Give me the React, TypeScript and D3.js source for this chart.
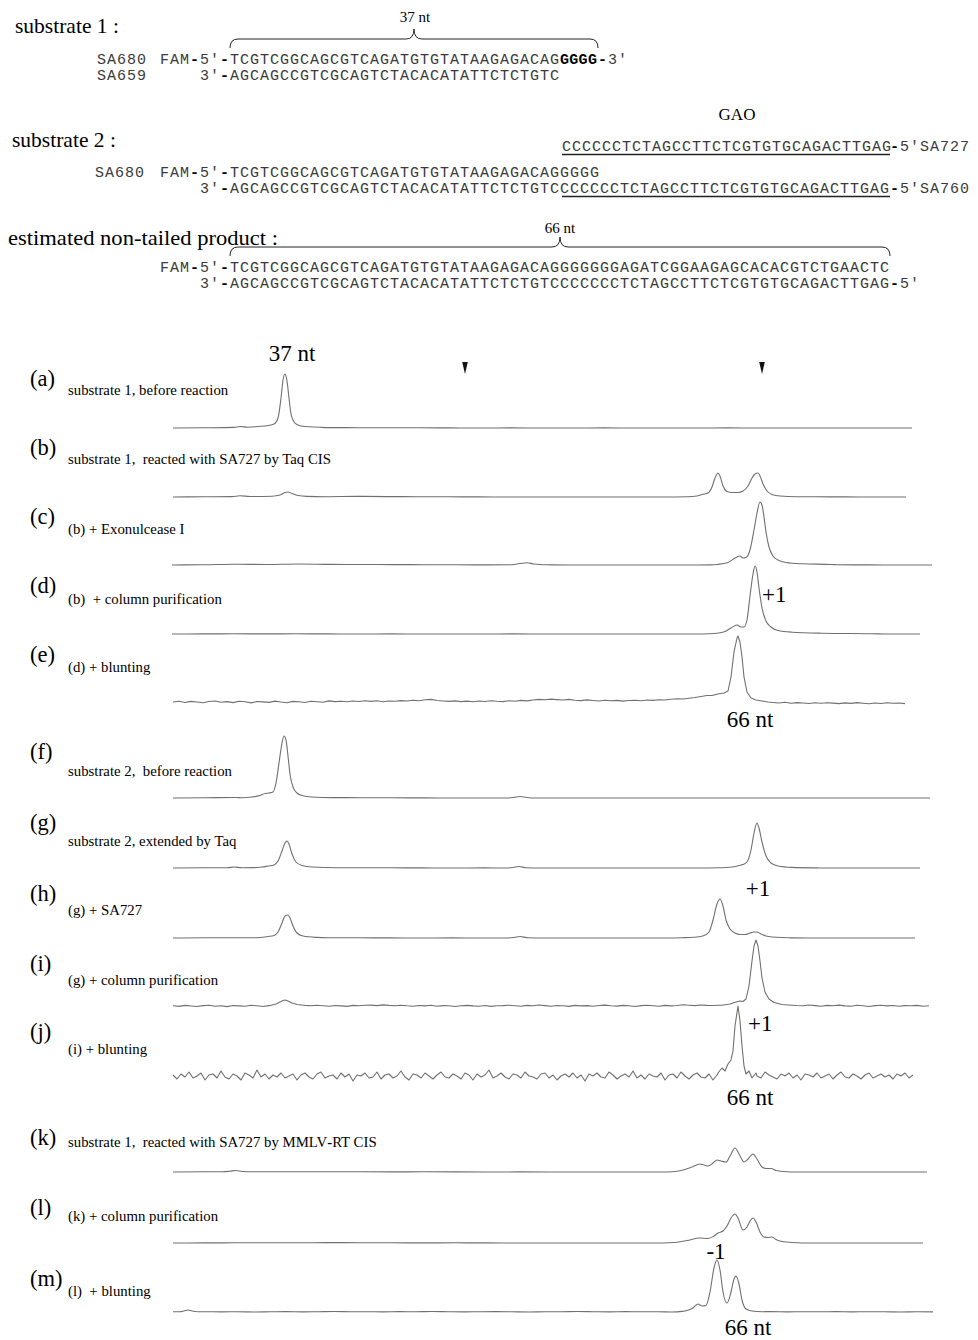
import React from 'react'
import * as d3 from 'd3'

// ---- header sequences ----
const SA680_SEQ = 'TCGTCGGCAGCGTCAGATGTGTATAAGAGACAG'
const G_TAIL = 'GGGG'
const SA659_SEQ = 'AGCAGCCGTCGCAGTCTACACATATTCTCTGTC'
const GAO_SEQ = 'CCCCCCTCTAGCCTTCTCGTGTGCAGACTTGAG'
const PRODUCT_TAIL = 'GGGGGGAGATCGGAAGAGCACACGTCTGAACTC'

// ---- panels ----
const PANEL_IDS = ['a', 'b', 'c', 'd', 'e', 'f', 'g', 'h', 'i', 'j', 'k', 'l', 'm']
const PANEL_NOTES = [
  'substrate 1, before reaction',
  'substrate 1,  reacted with SA727 by Taq CIS',
  '(b) + Exonulcease I',
  '(b)  + column purification',
  '(d) + blunting',
  'substrate 2,  before reaction',
  'substrate 2, extended by Taq',
  '(g) + SA727',
  '(g) + column purification',
  '(i) + blunting',
  'substrate 1,  reacted with SA727 by MMLV-RT CIS',
  '(k) + column purification',
  '(l)  + blunting',
]

// scan position of the two arrowheads over (a)
const MARKER_SCANS = [293, 590]

// traces: base = evenly spaced baseline readings between start and end (scan units),
// peaks = [scan, signal] readings around each peak
const A_BASE = [0, 0.2, 0.4, 0.3, 0.5, 0.4, 0.3, 0.2, 0.2, 0.1, 0, 0.1, 0, 0, 0.1, 0, 0, 0, 0.1, 0, 0, 0, 0, 0, 0]
const A_PEAKS = [[[62, 0.6], [68, 1.5], [76, 0.8], [86, 1.5], [96, 2.5], [102, 4], [106, 10], [109, 30], [111, 48], [113, 54], [115, 47], [117, 30], [119, 14], [122, 6], [126, 3], [133, 1.5], [148, 0.8]]]

const B_BASE = [0, 0.2, 0.5, 0.3, 0.4, 0.3, 0.6, 0.4, 0.3, 0.2, 0.1, 0, 0, 0, 0, 0, 0, 0.2, 0.3, 0.5, 0.3, 0.2, 0.1, 0, 0]
const B_PEAKS = [
  [[60, 0.4], [68, 1.2], [78, 0.5], [100, 0.8], [108, 2], [113, 4.5], [116, 5], [120, 3.5], [126, 1.5], [135, 0.6]],
  [[515, 0.3], [525, 1], [532, 3], [536, 4], [540, 10], [543, 19], [546, 24], [548, 21], [551, 11], [555, 5.5], [560, 4.5], [566, 4.5], [571, 6], [576, 11], [580, 19], [583, 23], [586, 24], [588, 21], [591, 13], [595, 6], [600, 2.5], [608, 1], [625, 0.3]],
]

const C_BASE = [0, 0.3, 0.8, 0.5, 1, 0.6, 0.5, 0.4, 0.3, 0.2, 0.1, 0.2, 0.1, 0, 0, 0, 0, 0.1, 0.3, 0.2, 0.4, 0.2, 0.1, 0, 0]
const C_PEAKS = [
  [[340, 0.3], [348, 1.5], [355, 2.3], [362, 1], [375, 0.2]],
  [[545, 0.5], [556, 2.5], [563, 7], [568, 9], [571, 7], [574, 7.5], [578, 15], [582, 35], [585, 52], [588, 63], [590, 60], [592, 48], [594, 33], [597, 18], [601, 9], [606, 5], [614, 2.5], [630, 1.2], [660, 0.5]],
]

const D_BASE = [0, 0.1, 0.2, 0.1, 0.2, 0.1, 0, 0.1, 0, 0, 0, 0.1, 0, 0, 0, 0, 0, 0, 0.2, 0.3, 0.2, 0.1, 0, 0, 0]
const D_PEAKS = [[[530, 0], [545, 0.8], [553, 2.5], [559, 6], [565, 9], [569, 7], [572, 7], [575, 14], [578, 38], [581, 60], [583, 68], [585, 62], [587, 46], [590, 26], [594, 13], [599, 7], [606, 3.5], [620, 1.8], [650, 0.8], [700, 0.3]]]

const E_BASE = [
  0, 0.8, -0.5, 0.6, 0, -0.8, 0.5, 1, -0.3, 0.4,
  -0.6, 0.7, 0.2, -0.9, 0.5, 0.1, -0.4, 0.9, 0, -0.7,
  0.6, 0.3, -0.5, 0.8, 0.2, -0.3, 1.1, 0.4, 0.8, 0.2,
  1, 0.5, 1.3, 0.6, 1.2, 0.3, 1.0, 0.7, 1.4, 1.0,
  1.8, 1.2, 2.2, 2.6, 1.5, 1.0, 0.6, 1.1, 0.4, 0.9,
  0.3, 1.0, 0.5, 1.2, 0.7, 0.4, 1.3, 0.8, 1.6, 1.1,
  2.0, 2.6, 2.2, 2.9, 2.4, 2.0, 2.6, 1.8, 1.4, 2.1,
  1.5, 1.0, 1.8, 1.2, 1.6, 0.9, 1.5, 1.8, 1.2, 2.0,
  1.6, 2.3, 2.0, 2.8, 3.2, 3.0, 3.8, 4.5, 5.5, 6.5,
  7, 8, 9, 20, 60, 30, 8, 4, 2, 1,
  -0.5, -1, -0.3, -1.2, -0.6, -1.0, -1.5, -0.8, -1.3, -0.7,
  -1.1, -1.6, -0.9, -1.4, -0.6, -1.2, -1.8, -1.0, -1.5, -0.7, -1.3, -1.0, -1.6,
]
const E_PEAKS = [[[540, 6.5], [546, 8], [552, 9], [556, 11], [559, 25], [562, 50], [565, 64], [566, 66], [568, 60], [570, 45], [572, 25], [575, 10], [579, 4], [584, 2], [590, 1], [596, 0]]]

const F_BASE = [0, 0.2, 0.5, 0.3, 0.8, 0.5, 0.3, 0.2, 0.1, 0, 0, 0, 0, 0, 0, 0, 0, 0, 0, 0, 0, 0, 0, 0, 0]
const F_PEAKS = [
  [[70, 0.3], [80, 1], [88, 2.5], [93, 4.5], [97, 5], [101, 6], [104, 15], [107, 35], [110, 55], [112, 62], [114, 58], [116, 42], [118, 24], [121, 11], [125, 5], [130, 2.5], [140, 1], [160, 0.4]],
  [[335, 0], [342, 0.6], [348, 1.5], [355, 0.5], [365, 0]],
]

const G_BASE = [0, 0.2, 0.5, 0.3, 0.6, 0.4, 0.3, 0.2, 0.1, 0, 0.1, 0, 0, 0, 0, 0, 0, 0, 0, 0.2, 0.1, 0, 0, 0, 0]
const G_PEAKS = [
  [[55, 0.2], [62, 1], [70, 0.3]],
  [[82, 0.4], [90, 1], [96, 2], [102, 3], [106, 7], [110, 17], [113, 25], [115, 27], [117, 24], [120, 14], [124, 6], [130, 2.5], [140, 1], [165, 0.3]],
  [[335, 0], [341, 0.5], [347, 1.5], [354, 0.3], [365, 0]],
  [[545, 0.2], [560, 1], [567, 2.5], [571, 3.5], [575, 6], [579, 18], [582, 35], [585, 45], [587, 40], [590, 26], [594, 12], [599, 5], [606, 2], [620, 0.6], [645, 0.1]],
]

const H_BASE = [0, 0.3, 0.2, 0.4, 0.6, 0.3, 0.2, 0.1, 0, 0.1, 0, 0, 0, 0, 0, 0, 0, 0.2, 0.4, 0.3, 0.1, 0, 0, 0, 0]
const H_PEAKS = [
  [[85, 0.3], [96, 1.5], [102, 2.5], [106, 6], [110, 15], [113, 22], [116, 23], [118, 20], [121, 12], [125, 5], [131, 2], [145, 0.6]],
  [[335, 0], [342, 0.5], [348, 1.5], [356, 0.3]],
  [[510, 0.3], [525, 1], [532, 2.5], [537, 6], [541, 18], [545, 34], [548, 39], [551, 32], [554, 18], [558, 9], [563, 5], [568, 3.5], [573, 3.5], [578, 5], [582, 6], [585, 6], [589, 4], [594, 2], [600, 1], [615, 0.3]],
]

const I_BASE = [
  0.3, -0.4, 0.6, 0, -0.5, 0.4, 0.8, -0.2, 0.3, -0.6, 0.5, 0.1, -0.3, 0.7, 0.2, -0.5, 0.4, 0.6, 0.2, 0.9,
  0.5, 1, 0.6, 0.3, 0.8, 0.2, -0.3, 0.5, 0.1, -0.4, 0.6, 0.3, 0.7, 0.9, 0.4, 1.1, 0.6, 0.3, 0.8, 0.2,
  -0.2, 0.5, 0.1, 0.7, -0.3, 0.4, 0.2, -0.5, 0.3, 0.6, 0.1, -0.2, 0.5, -0.4, 0.3, 0.4, 0.8, 0.2, -0.3, 0.6,
  0.2, 1, 0.4, -0.2, 0.5, 0.3, -0.4, 0.6, 0.1, 0.4, -0.3, 0.5, 0.9, 0.2, -0.1, 0.6, 0.3, -0.5, 0.4, 0.7,
  0.2, -0.3, 0.6, 0.1, 0.5, 1.2, 0.8, 0.4, 1, 0.6, 0.5, 0.8, 0.3, 0.6, 0.4, 0.5, 0.2, 0.7, 0.3, -0.2,
  0.4, 0.8, 0.2, -0.4, 0.5, 0.3, 1, 0.4, -0.3, 0.6, 0.2, 0.9, 0.1, -0.2, 0.7, 0.3, -0.5, 0.4, 0.8, 0.1,
  0.5, -0.3, 0.4, 0.2, 0.6, -0.2, 0.3,
]
const I_PEAKS = [
  [[98, 0.5], [104, 2], [108, 4], [111, 5.5], [113, 6], [116, 5], [120, 3], [125, 1.5], [132, 0.8]],
  [[550, 0.8], [558, 2], [564, 4], [568, 5], [571, 4.5], [574, 7], [577, 20], [580, 45], [582, 60], [584, 66], [586, 60], [588, 45], [590, 28], [593, 14], [597, 7], [602, 3.5], [610, 1.5], [620, 0.8]],
]

const J_BASE = [
  1, -3, 2, -1, 4, -2, 0, 3, -4, 1, 2, -2, 5, -1, -3, 2, 0, -4, 3, 1,
  -2, 6, -1, 2, -3, 1, -1, 3, -2, 0, 2, -4, 1, 3, -1, -3, 2, 4, -2, 0,
  1, -3, 3, -1, 2, -5, 1, 0, 3, -2, -1, 4, -3, 1, 2, -2, 0, 5, -1, -4,
  2, 1, -2, 3, 0, -3, 1, 4, -1, -2, 2, 0, -3, 3, 1, -4, 2, -1, 1, 6,
  -2, 0, 3, -1, -3, 2, 1, -2, 4, 0, -1, -3, 2, 3, -2, 1, -4, 0, 2, -1,
  3, -2, 1, -5, 2, 0, 3, -1, -2, 4, 1, -3, 0, 2, -1, 5, -2, 1, -3, 2,
  0, -1, 3, -4, 1, 2, -2, 4, 0, -3, 1, 3, -1, -2, 2, -4, 1, 3, 0, -2,
  2, 5, -1, 1, -3, 2, 0, -2, 4, 1, -1, -3, 2, 0, 3, -2, 1, -4, 2, 1,
  -1, 3, -2, 0, 2, -3, 1, 4, -1, -2, 2, 0, -3, 1, 3, -2, 0, 2, -1, 1,
  -3, 2, 0, 3, -2, 1,
]
const J_PEAKS = [[[546, 3], [550, 8], [553, 5], [556, 12], [559, 16], [561, 25], [563, 50], [566, 70], [568, 55], [570, 30], [572, 10], [574, 2], [577, 5], [580, -2], [584, 3]]]

const K_BASE = [0, 0.2, 0.5, 0.3, 0.2, 0.3, 0.2, 0.1, 0.2, 0.1, 0, 0.1, 0, 0, 0, 0, 0.2, 0.4, 0.3, 0.1, 0, 0, 0, 0, 0]
const K_PEAKS = [
  [[50, 0.2], [58, 0.8], [64, 1.5], [70, 0.5], [80, 0.2]],
  [[495, 0], [505, 0.8], [513, 2.5], [520, 5], [528, 8], [532, 7], [536, 6], [541, 9], [545, 12], [549, 11], [554, 10], [558, 16], [563, 24], [567, 18], [572, 10], [576, 13], [581, 18], [585, 13], [590, 5], [594, 3.5], [599, 3.5], [604, 1.5], [612, 0.5], [625, 0]],
]

const L_BASE = [0, 0.1, 0.2, 0.3, 0.2, 0.4, 0.3, 0.2, 0.1, 0.2, 0.1, 0, 0, 0, 0, 0, 0.2, 0.6, 0.4, 0.2, 0.1, 0, 0, 0, 0]
const L_PEAKS = [[[490, 0], [505, 0.8], [515, 2.5], [528, 5], [536, 4.5], [542, 7], [546, 10], [551, 12], [555, 17], [559, 25], [563, 29], [566, 25], [571, 13], [575, 16], [578, 22], [581, 25], [584, 21], [588, 11], [592, 6], [596, 5.5], [600, 6], [604, 3.5], [610, 1.5], [620, 0.5], [640, 0]]]

const M_BASE = [0.2, 0.5, 0.3, 0.1, 0.3, 0, 0.2, 0.4, 0.1, 0.3, 0.5, 0.2, 0.3, 0.1, 0.4, 0.2, 0.5, 0.3, 0.1, 0.3, 0.4, 0.2, 0, 0.3, 0.2, 0.5, 0.3, 0.1, 0.4, 0.2, 0.3, 0.5, 0.2, 0.4, 0.6, 0.3, 0.2, 0.4, 0.1, 0.3, 0.2, 0.4, 0.1, 0.3, 0.2, 0, 0.3, 0.1]
const M_PEAKS = [
  [[8, 0.2], [12, 1], [16, 2], [20, 1], [26, 0.2]],
  [[500, 0], [510, 0.6], [515, 1.5], [519, 3], [522, 5], [526, 8], [530, 6], [534, 6.5], [538, 20], [542, 44], [545, 52], [548, 42], [551, 20], [555, 9], [559, 20], [562, 33], [564, 36], [567, 28], [570, 12], [574, 3], [580, 1], [590, 0.3]],
]

const TRACES = [
  { start: 1, end: 740, base: A_BASE, peaks: A_PEAKS },
  { start: 1, end: 734, base: B_BASE, peaks: B_PEAKS },
  { start: 0, end: 760, base: C_BASE, peaks: C_PEAKS },
  { start: 0, end: 748, base: D_BASE, peaks: D_PEAKS },
  { start: 1, end: 733, base: E_BASE, peaks: E_PEAKS },
  { start: 1, end: 758, base: F_BASE, peaks: F_PEAKS },
  { start: 1, end: 748, base: G_BASE, peaks: G_PEAKS },
  { start: 1, end: 743, base: H_BASE, peaks: H_PEAKS },
  { start: 1, end: 757, base: I_BASE, peaks: I_PEAKS },
  { start: 1, end: 741, base: J_BASE, peaks: J_PEAKS },
  { start: 1, end: 755, base: K_BASE, peaks: K_PEAKS },
  { start: 1, end: 751, base: L_BASE, peaks: L_PEAKS },
  { start: 1, end: 761, base: M_BASE, peaks: M_PEAKS },
]

// size labels on the traces
const SIZE_NOTES = [
  { panel: 0, scan: 120, text: '37 nt', anchor: 'middle', dy: -67 },
  { panel: 3, scan: 590, text: '+1', anchor: 'start', dy: -32 },
  { panel: 4, scan: 578, text: '66 nt', anchor: 'middle', dy: 25 },
  { panel: 7, scan: 586, text: '+1', anchor: 'middle', dy: -42 },
  { panel: 9, scan: 576, text: '+1', anchor: 'start', dy: -45 },
  { panel: 9, scan: 578, text: '66 nt', anchor: 'middle', dy: 29 },
  { panel: 11, scan: 544, text: '-1', anchor: 'middle', dy: 16 },
  { panel: 12, scan: 576, text: '66 nt', anchor: 'middle', dy: 23 },
]

const W = 978
const H = 1340
const SERIF = "'Liberation Serif', 'Times New Roman', serif"
const MONO = "'Liberation Mono', 'Courier New', monospace"
const MONO_SIZE = 15
const PITCH = 10
const SPACING = PITCH - MONO_SIZE * 0.6
const SEQ_X = 230

const BASELINES = [428, 497, 565, 634, 702, 798, 868, 938, 1006, 1076, 1172, 1243, 1312]
const LABEL_Y = [386, 455, 524, 593, 662, 759, 830, 901, 971, 1039, 1145, 1215, 1286]
const NOTE_Y = [395, 464, 534, 604, 672, 776, 846, 915, 985, 1054, 1147, 1221, 1296]
const JAGGED = [4, 8, 9]

const xScale = d3.scaleLinear().domain([0, 760]).range([172, 932])

function tracePoints(t) {
  const n = t.base.length
  const step = (t.end - t.start) / (n - 1)
  const spans = t.peaks.map(p => [p[0][0], p[p.length - 1][0]])
  const pts = []
  t.base.forEach((v, i) => {
    const x = t.start + i * step
    if (!spans.some(([a, b]) => x >= a && x <= b)) pts.push([x, v])
  })
  t.peaks.forEach(p => p.forEach(q => pts.push(q)))
  return pts.sort((a, b) => a[0] - b[0])
}

// mono text where '-' is drawn bold
function Seq({ x, y, text, fill = '#3a3a3a' }) {
  const parts = text.split(/(-)/).filter(s => s.length)
  return (
    <text x={x} y={y} fontFamily={MONO} fontSize={MONO_SIZE} letterSpacing={SPACING} fill={fill} style={{ whiteSpace: 'pre' }}>
      {parts.map((p, i) => p === '-'
        ? <tspan key={i} fontWeight="bold" fill="#000">-</tspan>
        : <tspan key={i}>{p}</tspan>)}
    </text>
  )
}

function Brace({ x0, x1, yEnd, yFlat, yTip }) {
  const xm = (x0 + x1) / 2
  const r = 8
  const d = `M${x0},${yEnd} Q${x0},${yFlat} ${x0 + r},${yFlat} L${xm - r},${yFlat} Q${xm},${yFlat} ${xm},${yTip} Q${xm},${yFlat} ${xm + r},${yFlat} L${x1 - r},${yFlat} Q${x1},${yFlat} ${x1},${yEnd}`
  return <path d={d} fill="none" stroke="#222" strokeWidth={1} />
}

function Header() {
  const gEnd = SEQ_X + (SA680_SEQ.length) * PITCH
  const gaoEnd = gEnd + GAO_SEQ.length * PITCH
  const prodEnd = SEQ_X + (SA680_SEQ.length + PRODUCT_TAIL.length) * PITCH
  return (
    <g>
      <text x={15} y={33} fontFamily={SERIF} fontSize={21.5}>substrate 1 :</text>
      <text x={(SEQ_X + gEnd + 40) / 2} y={22} fontFamily={SERIF} fontSize={15} textAnchor="middle">37 nt</text>
      <Brace x0={SEQ_X} x1={gEnd + 38} yEnd={48} yFlat={39} yTip={29} />
      <Seq x={97} y={64} text="SA680" />
      <Seq x={SEQ_X - 7 * PITCH} y={64} text="FAM-5'-" />
      <Seq x={SEQ_X} y={64} text={SA680_SEQ} />
      <text x={gEnd} y={64} fontFamily={MONO} fontSize={MONO_SIZE} fontWeight="bold" letterSpacing={SPACING - 0.7}>{G_TAIL}</text>
      <Seq x={gEnd + 38} y={64} text="-3'" />
      <Seq x={97} y={80} text="SA659" />
      <Seq x={SEQ_X - 3 * PITCH} y={80} text="3'-" />
      <Seq x={SEQ_X} y={80} text={SA659_SEQ} />

      <text x={(gEnd + gaoEnd) / 2 + 12} y={120} fontFamily={SERIF} fontSize={17} textAnchor="middle">GAO</text>
      <Seq x={gEnd + 2} y={151} text={GAO_SEQ} />
      <line x1={gEnd + 2} x2={gaoEnd} y1={154.5} y2={154.5} stroke="#222" strokeWidth={1.6} />
      <Seq x={gaoEnd} y={151} text="-5'SA727" />

      <text x={12} y={147} fontFamily={SERIF} fontSize={21.5}>substrate 2 :</text>
      <Seq x={95} y={177} text="SA680" />
      <Seq x={SEQ_X - 7 * PITCH} y={177} text="FAM-5'-" />
      <Seq x={SEQ_X} y={177} text={SA680_SEQ + G_TAIL} />
      <Seq x={SEQ_X - 3 * PITCH} y={193} text="3'-" />
      <Seq x={SEQ_X} y={193} text={SA659_SEQ + GAO_SEQ} />
      <line x1={gEnd + 2} x2={gaoEnd} y1={196.5} y2={196.5} stroke="#222" strokeWidth={1.6} />
      <Seq x={gaoEnd} y={193} text="-5'SA760" />

      <text x={8} y={245} fontFamily={SERIF} fontSize={21.5} textLength={270} lengthAdjust="spacingAndGlyphs">estimated non-tailed product :</text>
      <text x={(SEQ_X + prodEnd) / 2} y={233} fontFamily={SERIF} fontSize={15} textAnchor="middle">66 nt</text>
      <Brace x0={SEQ_X} x1={prodEnd} yEnd={256} yFlat={247} yTip={237} />
      <Seq x={SEQ_X - 7 * PITCH} y={272} text="FAM-5'-" />
      <Seq x={SEQ_X} y={272} text={SA680_SEQ + PRODUCT_TAIL} />
      <Seq x={SEQ_X - 3 * PITCH} y={288} text="3'-" />
      <Seq x={SEQ_X} y={288} text={SA659_SEQ + GAO_SEQ} />
      <Seq x={prodEnd} y={288} text="-5'" />
    </g>
  )
}

function Note({ text, y }) {
  const parts = text.split(/(MMLV-RT)/)
  return (
    <text x={68} y={y} fontFamily={SERIF} fontSize={14.8} style={{ whiteSpace: 'pre' }}>
      {parts.map((p, i) => p === 'MMLV-RT'
        ? <tspan key={i}>MMLV<tspan fontWeight="bold">-</tspan>RT</tspan>
        : <tspan key={i}>{p}</tspan>)}
    </text>
  )
}

export default function App() {
  const smooth = d3.line().curve(d3.curveMonotoneX)
  const jagged = d3.line()
  return (
    <svg width={W} height={H} style={{ position: 'absolute', left: 0, top: 0, display: 'block', background: '#fff' }}>
      <rect width={W} height={H} fill="#fff" />
      <Header />
      {TRACES.map((t, i) => {
        const base = BASELINES[i]
        const y = d3.scaleLinear().domain([0, 100]).range([base, base - 100])
        const pts = tracePoints(t).map(([sx, v]) => [xScale(sx), y(v)])
        const line = JAGGED.includes(i) ? jagged : smooth
        return (
          <g key={PANEL_IDS[i]}>
            <text x={30} y={LABEL_Y[i]} fontFamily={SERIF} fontSize={22.5}>({PANEL_IDS[i]})</text>
            <Note text={PANEL_NOTES[i]} y={NOTE_Y[i]} />
            <path d={line(pts)} fill="none" stroke="#707070" strokeWidth={1.1} strokeLinejoin="round" />
          </g>
        )
      })}
      {MARKER_SCANS.map(s => {
        const x = xScale(s)
        return <path key={s} d={`M${x - 2.8},362 L${x + 2.8},362 L${x},374 Z`} fill="#111" />
      })}
      {SIZE_NOTES.map((n, i) => (
        <text key={i} x={xScale(n.scan)} y={BASELINES[n.panel] + n.dy} fontFamily={SERIF} fontSize={23} textAnchor={n.anchor}>{n.text}</text>
      ))}
    </svg>
  )
}
